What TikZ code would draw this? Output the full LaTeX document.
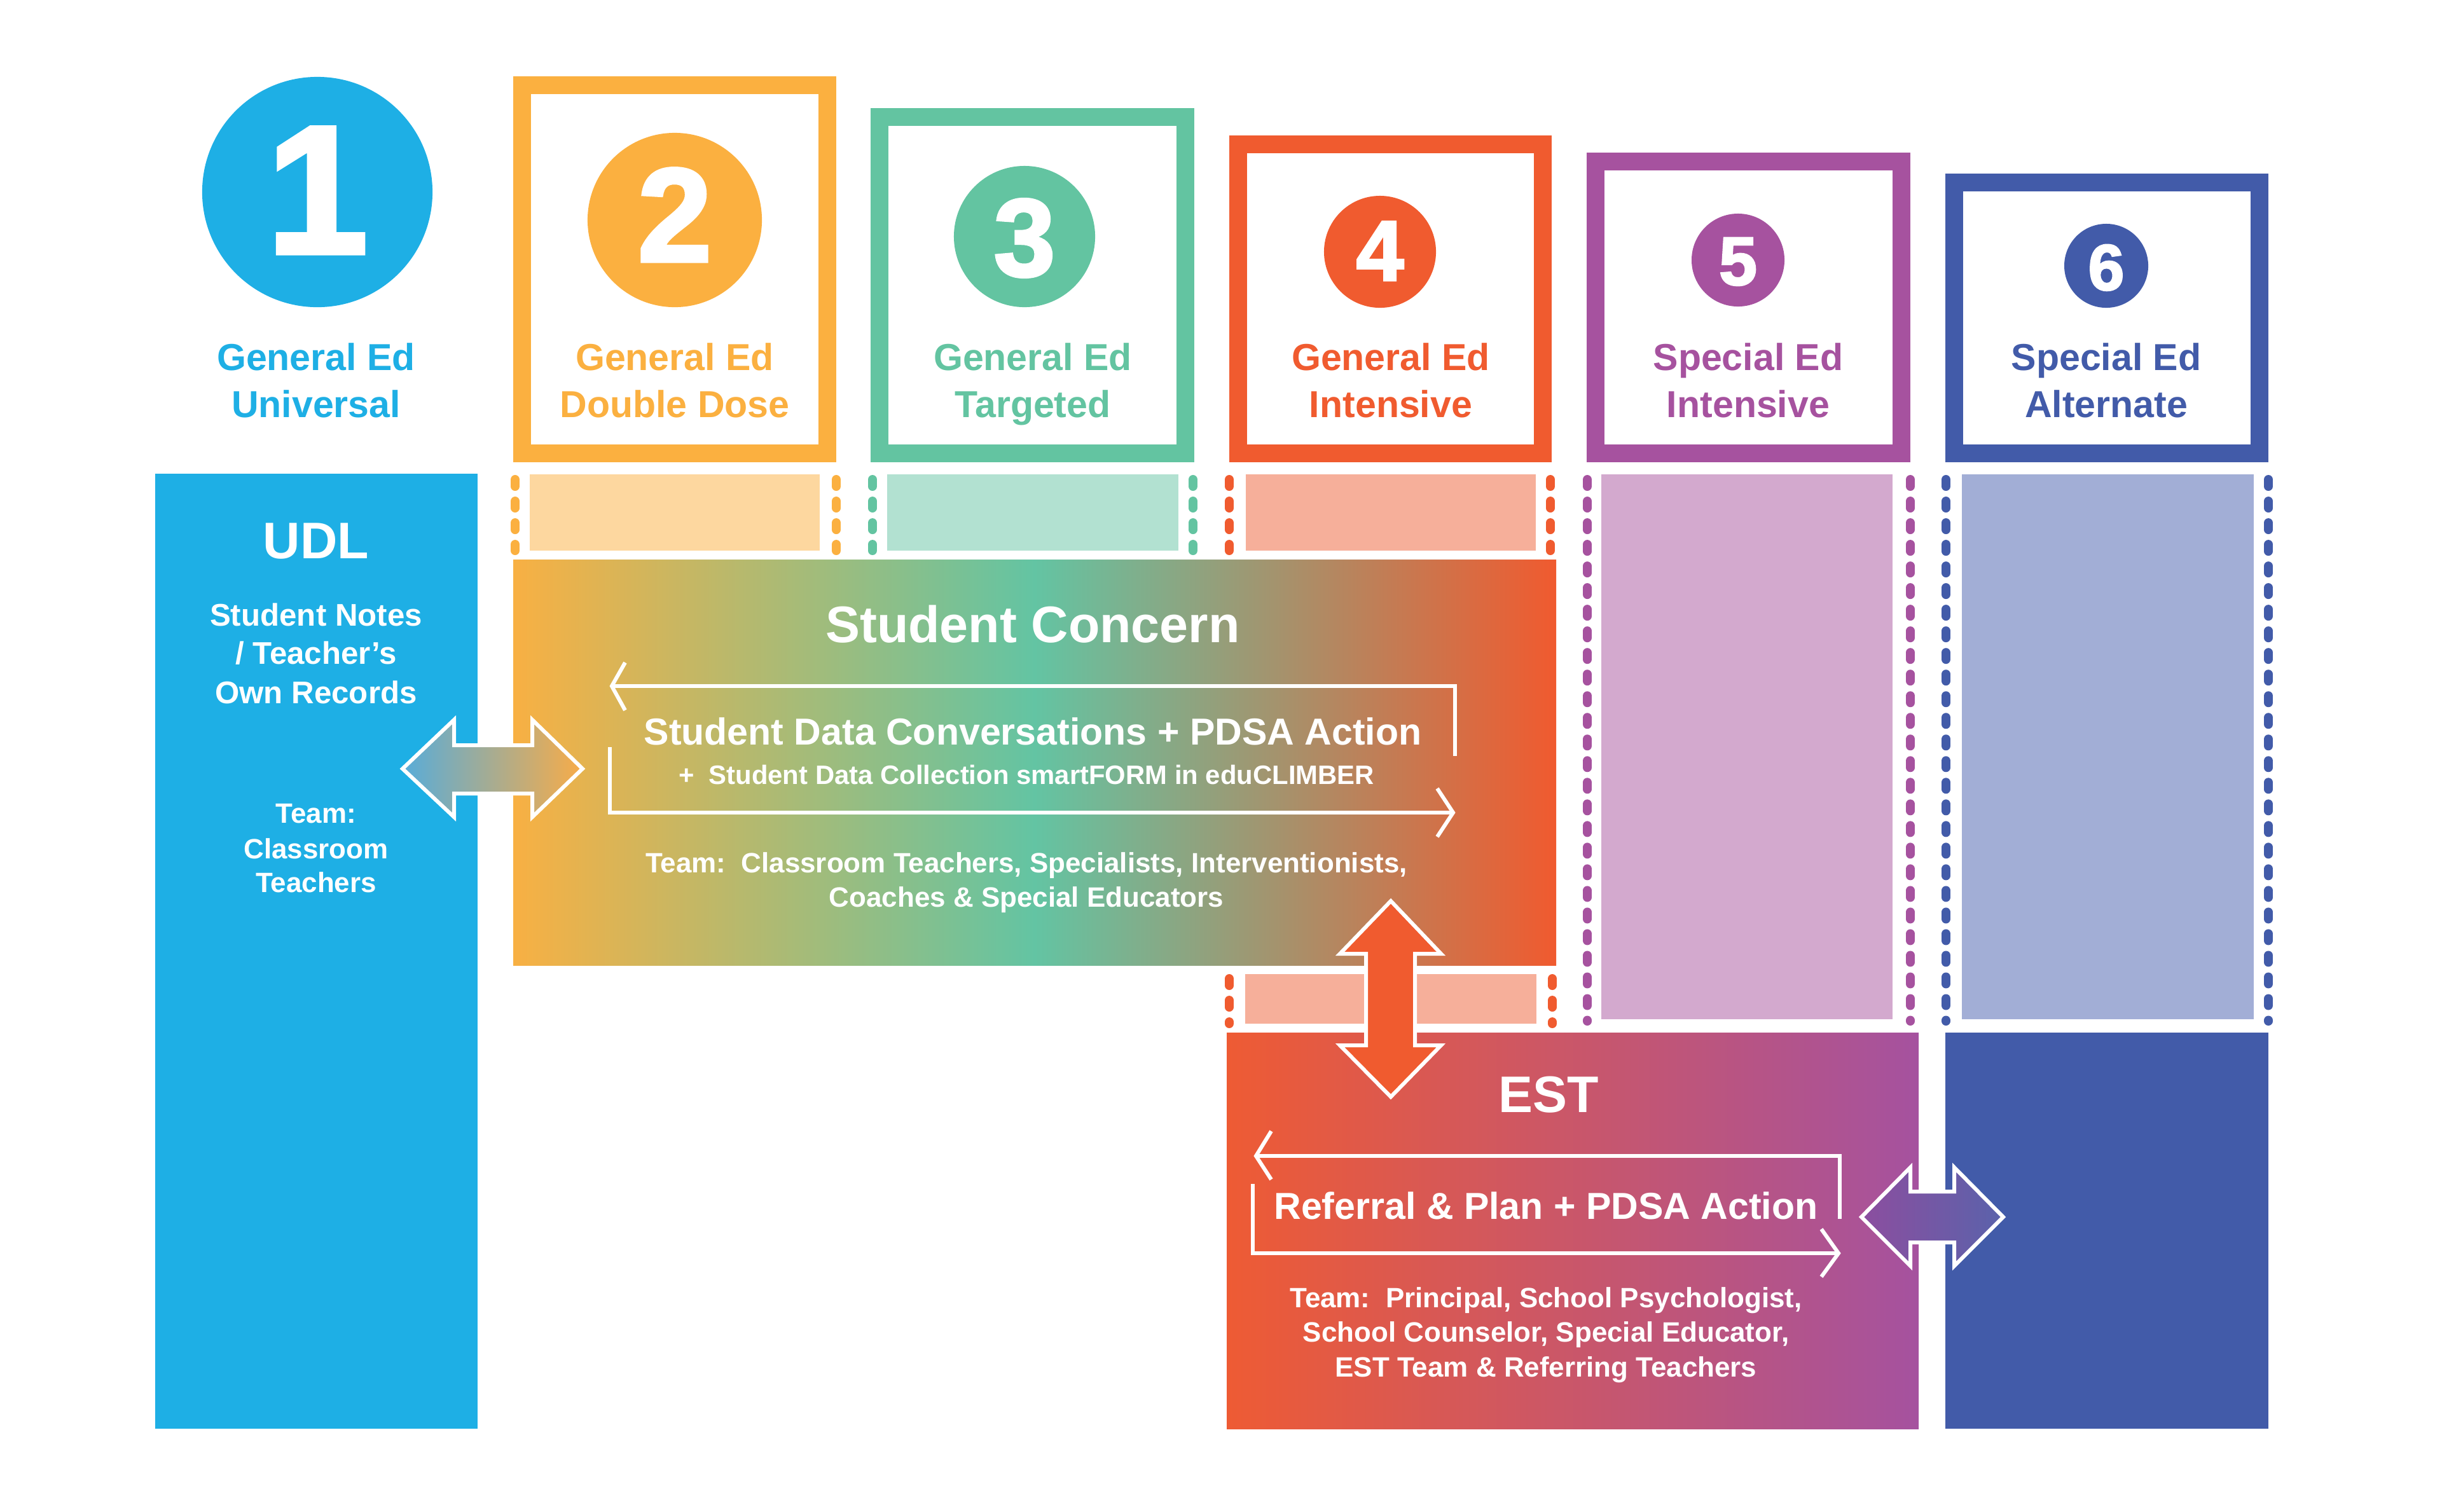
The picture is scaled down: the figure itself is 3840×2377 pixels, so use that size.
\documentclass[tikz,border=0pt]{standalone}
\usepackage{fontspec}
\setmainfont{Liberation Sans}
\newfontfamily\digitfont{Liberation Sans}[FakeBold=2.5]
\definecolor{cA}{HTML}{1EAFE5}
\definecolor{cB}{HTML}{FBB040}
\definecolor{cC}{HTML}{63C4A1}
\definecolor{cD}{HTML}{F05B2F}
\definecolor{cE}{HTML}{A6529F}
\definecolor{cF}{HTML}{425BA9}
\definecolor{cBl}{HTML}{FDD79F}
\definecolor{cCl}{HTML}{B2E1D1}
\definecolor{cDl}{HTML}{F6AF9A}
\definecolor{cEl}{HTML}{D3A9CE}
\definecolor{cFl}{HTML}{A2AED6}
\definecolor{scO}{HTML}{F8B043}
\definecolor{scG}{HTML}{63C4A3}
\definecolor{scR}{HTML}{F05A2F}
\definecolor{estL}{HTML}{EE5B34}
\definecolor{estR}{HTML}{A5529F}
\definecolor{laL}{HTML}{58ACD9}
\definecolor{laR}{HTML}{F8AC48}
\definecolor{paL}{HTML}{8C4E9F}
\definecolor{paR}{HTML}{5A62AB}
\pgfdeclarehorizontalshading{scshade}{100bp}{color(0bp)=(scO); color(25bp)=(scO); color(50bp)=(scG); color(75bp)=(scR); color(100bp)=(scR)}
\tikzset{
  tline/.style={anchor=base, inner sep=0pt},
  lbl/.style={tline, font=\bfseries\fontsize{16.8}{20}\selectfont},
  big/.style={tline, text=white, font=\bfseries\fontsize{23}{27}\selectfont},
  mid/.style={tline, text=white, font=\bfseries\fontsize{16.8}{20}\selectfont},
  notes/.style={tline, text=white, font=\bfseries\fontsize{14}{17}\selectfont},
  small/.style={tline, text=white, font=\bfseries\fontsize{12.5}{15}\selectfont},
  tiny/.style={tline, text=white, font=\bfseries\fontsize{11.9}{14}\selectfont},
  digit/.style={tline, text=white, font=\digitfont\bfseries\fontsize{#1}{#1}\selectfont},
  frame/.style={line width=0.28cm},
  dots/.style={line width=0.14cm, line cap=round, dash pattern=on 0.11cm off 0.23cm},
  wline/.style={draw=white, line width=0.06cm, line join=miter},
  arrowshape/.style={draw=white, line width=0.06cm, line join=miter},
}
\begin{document}
\begin{tikzpicture}[x=0.01cm, y=-0.01cm]
\useasboundingbox (0,0) rectangle (3840,2377);

% header frames
\draw[cB, frame] (821,134) rectangle (1301,713);
\draw[cC, frame] (1383,184) rectangle (1864,713);
\draw[cD, frame] (1947,227) rectangle (2426,713);
\draw[cE, frame] (2509,254) rectangle (2990,713);
\draw[cF, frame] (3073,287) rectangle (3553,713);

% number circles
\fill[cA] (499,302) circle[radius=1.81cm];
\fill[cB] (1061,346) circle[radius=1.37cm];
\fill[cC] (1611,372) circle[radius=1.11cm];
\fill[cD] (2170,396) circle[radius=0.88cm];
\fill[cE] (2733,409) circle[radius=0.73cm];
\fill[cF] (3312,418) circle[radius=0.66cm];
\node[digit=81.5] (n1) at (499,398) {1};
\node[digit=59.6] (n2) at (1061,411) {2};
\node[digit=49.3] (n3) at (1611,434) {3};
\node[digit=38.2] (n4) at (2170,441) {4};
\node[digit=30.6] (n5) at (2733,448) {5};
\node[digit=29] (n6) at (3312,456) {6};

% column labels
\node[lbl, text=cA] (l1a) at (497,582) {General Ed};
\node[lbl, text=cA] (l1b) at (497,656) {Universal};
\node[lbl, text=cB] (l2a) at (1061,582) {General Ed};
\node[lbl, text=cB] (l2b) at (1061,656) {Double Dose};
\node[lbl, text=cC] (l3a) at (1624,582) {General Ed};
\node[lbl, text=cC] (l3b) at (1624,656) {Targeted};
\node[lbl, text=cD] (l4a) at (2187,582) {General Ed};
\node[lbl, text=cD] (l4b) at (2187,656) {Intensive};
\node[lbl, text=cE] (l5a) at (2749,582) {Special Ed};
\node[lbl, text=cE] (l5b) at (2749,656) {Intensive};
\node[lbl, text=cF] (l6a) at (3312,582) {Special Ed};
\node[lbl, text=cF] (l6b) at (3312,656) {Alternate};

% bands and columns
\fill[cA] (244,745) rectangle (751,2247);
\fill[cBl] (833,746) rectangle (1289,866);
\fill[cCl] (1395,746) rectangle (1853,866);
\fill[cDl] (1959,746) rectangle (2415,866);
\fill[cEl] (2518,746) rectangle (2976,1603);
\fill[cFl] (3085,746) rectangle (3544,1603);
\fill[cDl] (1958,1532) rectangle (2416,1610);

% dotted edges
\draw[cB, dots] (810,754) -- (810,866);
\draw[cB, dots] (1315,754) -- (1315,866);
\draw[cC, dots] (1372,754) -- (1372,866);
\draw[cC, dots] (1876,754) -- (1876,866);
\draw[cD, dots] (1933,754) -- (1933,866);
\draw[cD, dots] (2438,754) -- (2438,866);
\draw[cD, dots] (1933,1539) -- (1933,1610);
\draw[cD, dots] (2441,1539) -- (2441,1610);
\draw[cE, dots] (2496,754) -- (2496,1606);
\draw[cE, dots] (3004,754) -- (3004,1606);
\draw[cF, dots] (3060,754) -- (3060,1606);
\draw[cF, dots] (3567,754) -- (3567,1606);

% main blocks
\shade[shading=scshade] (807,880) rectangle (2447,1518);
\shade[left color=estL, right color=estR] (1929,1624) rectangle (3017,2247);
\fill[cF] (3059,1624) rectangle (3567,2247);

% UDL column text
\node[big] (udl) at (497,878) {UDL};
\node[notes] (u1) at (497,984) {Student Notes};
\node[notes] (u2) at (497,1044) {/ Teacher’s};
\node[notes] (u3) at (497,1106) {Own Records};
\node[small] (u4) at (497,1294) {Team:};
\node[small] (u5) at (497,1350) {Classroom};
\node[small] (u6) at (497,1403) {Teachers};

% Student Concern text
\node[big] (sc) at (1624,1010) {Student Concern};
\node[mid] (sc1) at (1624,1171) {Student Data Conversations + PDSA Action};
\node[tiny] (sc2) at (1614,1233) {+\ \ Student Data Collection smartFORM in eduCLIMBER};
\node[small] (sc3) at (1614,1372) {Team:\ \ Classroom Teachers, Specialists, Interventionists,};
\node[small] (sc4) at (1614,1426) {Coaches \& Special Educators};

% Student Concern loop arrows
\draw[wline] (2288,1189) -- (2288,1079) -- (962,1079);
\draw[wline] (983,1042) -- (962,1079) -- (983,1117);
\draw[wline] (959,1175) -- (959,1278) -- (2285,1278);
\draw[wline] (2260,1240) -- (2285,1278) -- (2260,1316);

% EST text
\node[big] (est) at (2435,1749) {EST};
\node[mid] (est1) at (2431,1917) {Referral \& Plan + PDSA Action};
\node[small] (est2) at (2431,2056) {Team:\ \ Principal, School Psychologist,};
\node[small] (est3) at (2431,2110) {School Counselor, Special Educator,};
\node[small] (est4) at (2431,2165) {EST Team \& Referring Teachers};

% EST loop arrows
\draw[wline] (2893,1917) -- (2893,1818) -- (1975,1818);
\draw[wline] (1999,1779) -- (1975,1818) -- (1999,1855);
\draw[wline] (1970,1862) -- (1970,1971) -- (2891,1971);
\draw[wline] (2864,1933) -- (2891,1971) -- (2864,2008);

% double arrows
\shadedraw[left color=laL, right color=laR, arrowshape]
  (633,1209) -- (714,1132) -- (714,1172) -- (837,1172) -- (837,1132) -- (916,1209)
  -- (837,1285) -- (837,1248) -- (714,1248) -- (714,1285) -- cycle;
\filldraw[fill=cD, arrowshape]
  (2187,1417) -- (2266,1500) -- (2225,1500) -- (2225,1644) -- (2266,1644) -- (2187,1725)
  -- (2107,1644) -- (2148,1644) -- (2148,1500) -- (2107,1500) -- cycle;
\shadedraw[left color=paL, right color=paR, arrowshape]
  (2927,1914) -- (3004,1836) -- (3004,1874) -- (3073,1874) -- (3073,1836) -- (3150,1914)
  -- (3073,1991) -- (3073,1954) -- (3004,1954) -- (3004,1991) -- cycle;
\end{tikzpicture}
\end{document}
